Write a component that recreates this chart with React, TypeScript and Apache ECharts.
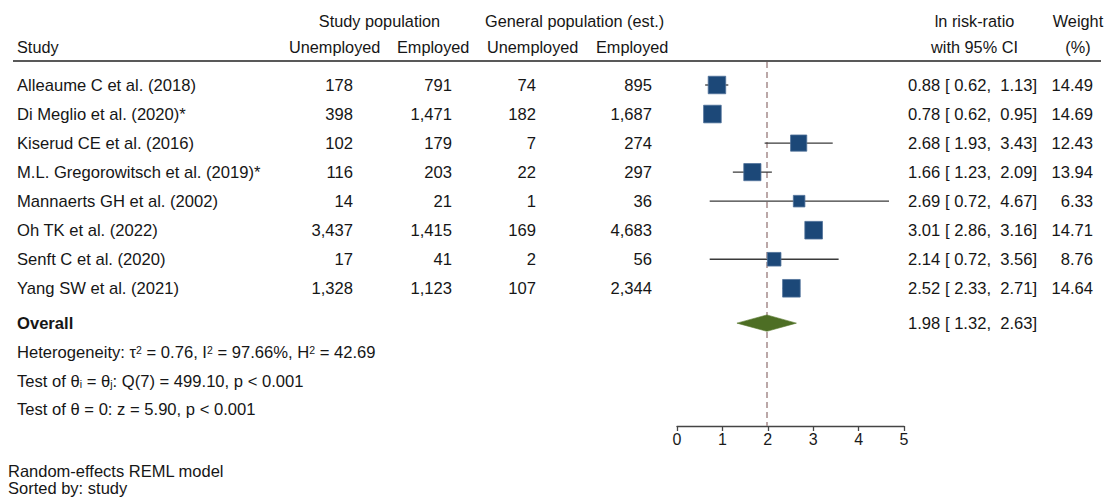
import React, { useEffect, useRef } from "react";
import * as echarts from "echarts";

// ---------- data ----------
const studies = [
  "Alleaume C et al. (2018)",
  "Di Meglio et al. (2020)*",
  "Kiserud CE et al. (2016)",
  "M.L. Gregorowitsch et al. (2019)*",
  "Mannaerts GH et al. (2002)",
  "Oh TK et al. (2022)",
  "Senft C et al. (2020)",
  "Yang SW et al. (2021)",
];
const studyUnemployed = [178, 398, 102, 116, 14, 3437, 17, 1328];
const studyEmployed = [791, 1471, 179, 203, 21, 1415, 41, 1123];
const genUnemployed = [74, 182, 7, 22, 1, 169, 2, 107];
const genEmployed = [895, 1687, 274, 297, 36, 4683, 56, 2344];
const estimate = [0.88, 0.78, 2.68, 1.66, 2.69, 3.01, 2.14, 2.52];
const ciLow = [0.62, 0.62, 1.93, 1.23, 0.72, 2.86, 0.72, 2.33];
const ciHigh = [1.13, 0.95, 3.43, 2.09, 4.67, 3.16, 3.56, 2.71];
const weights = [14.49, 14.69, 12.43, 13.94, 6.33, 14.71, 8.76, 14.64];
const overallEstimate = 1.98;
const overallLow = 1.32;
const overallHigh = 2.63;
const xTicks = [0, 1, 2, 3, 4, 5];

// ---------- layout ----------
const W = 1107;
const H = 497;
const ROW0 = 85;
const ROWH = 29.04;
const OVERALL_ROW = 8.2;
const HEADER_LINE_Y = 61;
const AXIS_Y = 426;
const PLOT_LEFT = 677;
const PLOT_RIGHT = 904;
const FONT = '"Liberation Sans", Arial, Helvetica, sans-serif';
const FS_HEAD = 16.3;
const FS = 16.6;
const TXT = "#161616";

const rowY = (i: number) => ROW0 + ROWH * i;
const fmt = (n: number) => n.toLocaleString("en-US");
const ci = (e: number, l: number, h: number) =>
  `${e.toFixed(2)} [ ${l.toFixed(2)},  ${h.toFixed(2)}]`;

function txt(
  text: string,
  x: number,
  y: number,
  align: string = "left",
  extra: any = {}
) {
  return {
    type: "text",
    silent: true,
    style: {
      text,
      x,
      y,
      fill: TXT,
      fontFamily: FONT,
      fontSize: FS,
      align,
      textAlign: align,
      verticalAlign: "middle",
      textVerticalAlign: "middle",
      ...extra,
    },
  };
}

export default function App() {
  const ref = useRef<HTMLDivElement>(null);

  useEffect(() => {
    if (!ref.current) return;
    const chart = echarts.init(ref.current, undefined, { renderer: "svg" });

    const graphics: any[] = [];
    // headers
    const h1 = 21.4;
    const h2 = 47.4;
    const hs = { fontSize: FS_HEAD };
    graphics.push(txt("Study", 17, h2, "left", hs));
    graphics.push(txt("Study population", 379.5, h1, "center", hs));
    graphics.push(txt("Unemployed", 289, h2, "left", hs));
    graphics.push(txt("Employed", 397, h2, "left", hs));
    graphics.push(txt("General population (est.)", 485, h1, "left", hs));
    graphics.push(txt("Unemployed", 487, h2, "left", hs));
    graphics.push(txt("Employed", 596, h2, "left", hs));
    graphics.push(txt("ln risk-ratio", 974.5, h1, "center", hs));
    graphics.push(txt("with 95% CI", 974.5, h2, "center", hs));
    graphics.push(txt("Weight", 1078, h1, "center", hs));
    graphics.push(txt("(%)", 1078, h2, "center", hs));
    graphics.push({
      type: "line",
      silent: true,
      shape: { x1: 13, y1: HEADER_LINE_Y, x2: 1101, y2: HEADER_LINE_Y },
      style: { stroke: "#222", lineWidth: 1.4 },
    });

    // study rows
    studies.forEach((s, i) => {
      const y = rowY(i);
      graphics.push(txt(s, 17, y));
      graphics.push(txt(fmt(studyUnemployed[i]), 353, y, "right"));
      graphics.push(txt(fmt(studyEmployed[i]), 452, y, "right"));
      graphics.push(txt(fmt(genUnemployed[i]), 536, y, "right"));
      graphics.push(txt(fmt(genEmployed[i]), 652, y, "right"));
      graphics.push(txt(ci(estimate[i], ciLow[i], ciHigh[i]), 908, y, "left"));
      graphics.push(txt(weights[i].toFixed(2), 1093, y, "right"));
    });

    // overall rows
    const yo = rowY(OVERALL_ROW);
    graphics.push(txt("Overall", 17, yo, "left", { fontWeight: "bold" }));
    graphics.push(txt(ci(overallEstimate, overallLow, overallHigh), 908, yo, "left"));
    const richExtra = {
      lineHeight: 16,
      rich: {
        sup: { fontSize: 10.5, lineHeight: 10, verticalAlign: "top", fill: TXT, fontFamily: FONT },
        sub: { fontSize: 10.5, lineHeight: 10, verticalAlign: "bottom", fill: TXT, fontFamily: FONT },
      },
    };
    graphics.push(
      txt(
        "Heterogeneity: τ{sup|2} = 0.76, I{sup|2} = 97.66%, H{sup|2} = 42.69",
        17,
        rowY(OVERALL_ROW + 1),
        "left",
        richExtra
      )
    );
    graphics.push(
      txt(
        "Test of θ{sub|i} = θ{sub|j}: Q(7) = 499.10, p < 0.001",
        17,
        rowY(OVERALL_ROW + 2),
        "left",
        richExtra
      )
    );
    graphics.push(
      txt("Test of θ = 0: z = 5.90, p < 0.001", 17, rowY(OVERALL_ROW + 3) - 1, "left")
    );

    // footer
    graphics.push(txt("Random-effects REML model", 8, 471.2, "left", { fontSize: 16.5 }));
    graphics.push(txt("Sorted by: study", 8, 488.4, "left", { fontSize: 16.5 }));

    const studyData = studies.map((_, i) => [estimate[i], ciLow[i], ciHigh[i], weights[i], i]);

    const option: any = {
      animation: false,
      backgroundColor: "#ffffff",
      grid: {
        left: PLOT_LEFT,
        right: W - PLOT_RIGHT,
        top: HEADER_LINE_Y + 1,
        bottom: H - AXIS_Y,
        containLabel: false,
      },
      xAxis: {
        type: "value",
        min: xTicks[0],
        max: xTicks[xTicks.length - 1],
        interval: 1,
        axisLine: { show: true, onZero: false, lineStyle: { color: "#444", width: 1.3 } },
        axisTick: { show: true, inside: false, length: 5, lineStyle: { color: "#444", width: 1.3 } },
        axisLabel: { color: "#1a1a1a", fontSize: 16, fontFamily: FONT, margin: 5 },
        splitLine: { show: false },
      },
      yAxis: {
        type: "value",
        inverse: true,
        min: (HEADER_LINE_Y + 1 - ROW0) / ROWH,
        max: (AXIS_Y - ROW0) / ROWH,
        show: false,
        splitLine: { show: false },
      },
      series: [
        {
          type: "custom",
          name: "overall",
          data: [[overallEstimate, overallLow, overallHigh, OVERALL_ROW]],
          encode: { x: 0, y: 3 },
          z: 3,
          renderItem: (params: any, api: any) => {
            const row = api.value(3);
            const c = api.coord([api.value(0), row]);
            const l = api.coord([api.value(1), row]);
            const r = api.coord([api.value(2), row]);
            const hh = 8.2;
            return {
              type: "polygon",
              shape: {
                points: [
                  [l[0], c[1]],
                  [c[0], c[1] - hh],
                  [r[0], c[1]],
                  [c[0], c[1] + hh],
                ],
              },
              style: { fill: "#4d6e24", stroke: "#5a7a30", lineWidth: 0.6 },
            };
          },
          markLine: {
            silent: true,
            symbol: ["none", "none"],
            label: { show: false },
            lineStyle: { color: "#a58c8c", width: 1.5, type: [6, 4] },
            data: [{ xAxis: overallEstimate }],
            z: 1,
          },
        },
        {
          type: "custom",
          name: "studies",
          data: studyData,
          encode: { x: 0, y: 4 },
          z: 4,
          renderItem: (params: any, api: any) => {
            const row = api.value(4);
            const c = api.coord([api.value(0), row]);
            const l = api.coord([api.value(1), row]);
            const r = api.coord([api.value(2), row]);
            const side = 4.6 * Math.sqrt(api.value(3));
            return {
              type: "group",
              children: [
                {
                  type: "line",
                  shape: { x1: l[0], y1: c[1], x2: r[0], y2: c[1] },
                  style: { stroke: "#3a3a3a", lineWidth: 1.3 },
                },
                {
                  type: "rect",
                  shape: { x: c[0] - side / 2, y: c[1] - side / 2, width: side, height: side },
                  style: { fill: "#1c4878", stroke: "#4f7199", lineWidth: 0.8 },
                },
              ],
            };
          },
        },
      ],
      graphic: graphics,
    };

    chart.setOption(option);
    return () => chart.dispose();
  }, []);

  return (
    <div
      ref={ref}
      style={{ position: "fixed", left: 0, top: 0, width: W, height: H, background: "#fff" }}
    />
  );
}
